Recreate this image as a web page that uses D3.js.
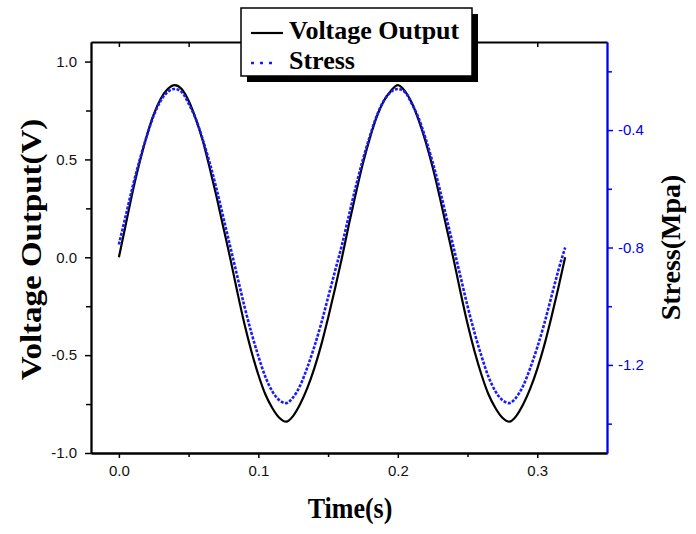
<!DOCTYPE html>
<html>
<head>
<meta charset="utf-8">
<script src="https://cdn.jsdelivr.net/npm/d3@7"></script>
<style>
  body { margin: 0; background: #fff; }
</style>
</head>
<body>
<div id="chart"></div>
<script>
// values (5 ms steps)
var time = [0.000, 0.005, 0.010, 0.015, 0.020, 0.025, 0.030, 0.035, 0.040, 0.045,
            0.050, 0.055, 0.060, 0.065, 0.070, 0.075, 0.080, 0.085, 0.090, 0.095,
            0.100, 0.105, 0.110, 0.115, 0.120, 0.125, 0.130, 0.135, 0.140, 0.145,
            0.150, 0.155, 0.160, 0.165, 0.170, 0.175, 0.180, 0.185, 0.190, 0.195,
            0.200, 0.205, 0.210, 0.215, 0.220, 0.225, 0.230, 0.235, 0.240, 0.245,
            0.250, 0.255, 0.260, 0.265, 0.270, 0.275, 0.280, 0.285, 0.290, 0.295,
            0.300, 0.305, 0.310, 0.315, 0.320];

var voltage = [0.00, 0.17, 0.34, 0.49, 0.62, 0.73, 0.81, 0.86, 0.88, 0.86,
               0.80, 0.71, 0.60, 0.46, 0.31, 0.15, -0.01, -0.18, -0.34, -0.48,
               -0.60, -0.70, -0.77, -0.82, -0.84, -0.81, -0.75, -0.67, -0.57, -0.45,
               -0.31, -0.16, 0.00, 0.17, 0.33, 0.48, 0.61, 0.72, 0.80, 0.85,
               0.88, 0.85, 0.79, 0.70, 0.59, 0.46, 0.31, 0.15, -0.01, -0.18,
               -0.34, -0.48, -0.60, -0.70, -0.77, -0.82, -0.84, -0.81, -0.75, -0.67,
               -0.57, -0.45, -0.31, -0.16, 0.00];

var stress = [-0.79, -0.69, -0.59, -0.50, -0.42, -0.35, -0.30, -0.27, -0.26, -0.27,
              -0.31, -0.36, -0.43, -0.51, -0.60, -0.70, -0.80, -0.90, -1.00, -1.09,
              -1.17, -1.24, -1.29, -1.32, -1.33, -1.31, -1.27, -1.21, -1.14, -1.06,
              -0.97, -0.88, -0.79, -0.69, -0.59, -0.50, -0.42, -0.35, -0.30, -0.27,
              -0.26, -0.27, -0.31, -0.36, -0.43, -0.51, -0.60, -0.70, -0.80, -0.90,
              -1.00, -1.09, -1.17, -1.24, -1.29, -1.32, -1.33, -1.31, -1.27, -1.21,
              -1.14, -1.06, -0.97, -0.88, -0.80];

var timeTicks = [0, 0.1, 0.2, 0.3];
var timeMinor = [0.05, 0.15, 0.25];
var voltTicks = [-1, -0.5, 0, 0.5, 1];
var voltMinor = [-0.75, -0.25, 0.25, 0.75];
var stressTicks = [-1.2, -0.8, -0.4];
var stressMinor = [-1.4, -1.0, -0.6, -0.2];

var seriesNames = ["Voltage Output", "Stress"];

// Define SVG area dimensions
var svgWidth = 696;
var svgHeight = 534;
var chartMargin = { top: 42, right: 89, bottom: 81, left: 91 };
var chartWidth = svgWidth - chartMargin.left - chartMargin.right;
var chartHeight = svgHeight - chartMargin.top - chartMargin.bottom;

var blue = "#0000f0";
var serif = "'Liberation Serif', 'Times New Roman', serif";
var sans = "'Liberation Sans', Arial, sans-serif";

var svg = d3.select("#chart")
    .append("svg")
    .attr("width", svgWidth)
    .attr("height", svgHeight)
    .style("background", "#fff");

var chartGroup = svg.append("g")
    .attr("transform", `translate(${chartMargin.left}, ${chartMargin.top})`);

// scales
var xScale = d3.scaleLinear().domain([-0.02, 0.35]).range([0, chartWidth]);
var yLeft = d3.scaleLinear().domain([-1, 1.1]).range([chartHeight, 0]);
var yRight = d3.scaleLinear().domain([-1.5, -0.1]).range([chartHeight, 0]);

var fmt = d => d.toFixed(1);

function styleAxis(g, color, size) {
    g.selectAll("path").attr("stroke", color).attr("stroke-width", 1.8);
    g.selectAll("line").attr("stroke", color).attr("stroke-width", 1.5);
    g.selectAll("text")
        .attr("fill", color === "#000" ? "#111" : color)
        .style("font-family", sans)
        .style("font-size", size + "px");
}

// bottom axis
var xAxisG = chartGroup.append("g")
    .attr("transform", `translate(0, ${chartHeight})`)
    .call(d3.axisBottom(xScale).tickValues(timeTicks).tickFormat(fmt)
        .tickSize(5).tickSizeOuter(0).tickPadding(7));
styleAxis(xAxisG, "#000", 15);
var xMinorG = chartGroup.append("g")
    .attr("transform", `translate(0, ${chartHeight})`)
    .call(d3.axisBottom(xScale).tickValues(timeMinor).tickFormat("")
        .tickSize(4).tickSizeOuter(0));
styleAxis(xMinorG, "#000", 15);

// top axis, ticks pointing inside
var topG = chartGroup.append("g")
    .call(d3.axisBottom(xScale).tickValues(timeTicks.concat(timeMinor)).tickFormat("")
        .tickSize(5).tickSizeOuter(0));
styleAxis(topG, "#000", 15);

// left axis
var yAxisG = chartGroup.append("g")
    .call(d3.axisLeft(yLeft).tickValues(voltTicks).tickFormat(fmt)
        .tickSize(6).tickSizeOuter(0).tickPadding(8));
styleAxis(yAxisG, "#000", 15);
var yMinorG = chartGroup.append("g")
    .call(d3.axisLeft(yLeft).tickValues(voltMinor).tickFormat("")
        .tickSize(5).tickSizeOuter(0));
styleAxis(yMinorG, "#000", 15);

// right axis (stress)
var rAxisG = chartGroup.append("g")
    .attr("transform", `translate(${chartWidth}, 0)`)
    .call(d3.axisRight(yRight).tickValues(stressTicks).tickFormat(fmt)
        .tickSize(6).tickSizeOuter(0).tickPadding(5));
styleAxis(rAxisG, blue, 15);
var rMinorG = chartGroup.append("g")
    .attr("transform", `translate(${chartWidth}, 0)`)
    .call(d3.axisRight(yRight).tickValues(stressMinor).tickFormat("")
        .tickSize(5).tickSizeOuter(0));
styleAxis(rMinorG, blue, 15);

// lines
var voltLine = d3.line()
    .x((d, i) => xScale(time[i]))
    .y(d => yLeft(d))
    .curve(d3.curveMonotoneX);

var stressLine = d3.line()
    .x((d, i) => xScale(time[i]))
    .y(d => yRight(d))
    .curve(d3.curveMonotoneX);

chartGroup.append("path")
    .datum(voltage)
    .attr("d", voltLine)
    .attr("fill", "none")
    .attr("stroke", "#000")
    .attr("stroke-width", 2.2);

chartGroup.append("path")
    .datum(stress)
    .attr("d", stressLine)
    .attr("fill", "none")
    .attr("stroke", "#1a1aff")
    .attr("stroke-width", 2.6)
    .attr("stroke-dasharray", "3,1.5");

// axis titles
svg.append("text")
    .attr("transform", `translate(41, ${chartMargin.top + chartHeight / 2 + 2}) scale(1, 1.1) rotate(-90)`)
    .attr("text-anchor", "middle")
    .style("font-family", serif)
    .style("font-weight", "bold")
    .style("font-size", "30px")
    .text("Voltage Output(V)");

svg.append("text")
    .attr("transform", `translate(680, ${chartMargin.top + chartHeight / 2}) rotate(-90)`)
    .attr("text-anchor", "middle")
    .style("font-family", serif)
    .style("font-weight", "bold")
    .style("font-size", "28px")
    .text("Stress(Mpa)");

svg.append("text")
    .attr("transform", "translate(350, 518) scale(1, 1.15)")
    .attr("text-anchor", "middle")
    .style("font-family", serif)
    .style("font-weight", "bold")
    .style("font-size", "26px")
    .text("Time(s)");

// legend with drop shadow
var legend = svg.append("g");
legend.append("rect")
    .attr("x", 247).attr("y", 14)
    .attr("width", 231).attr("height", 68)
    .attr("fill", "#000");
legend.append("rect")
    .attr("x", 241).attr("y", 8)
    .attr("width", 231).attr("height", 68)
    .attr("fill", "#fff")
    .attr("stroke", "#000")
    .attr("stroke-width", 1.5);

legend.append("line")
    .attr("x1", 251).attr("x2", 283)
    .attr("y1", 33).attr("y2", 33)
    .attr("stroke", "#000").attr("stroke-width", 2.2);
legend.append("line")
    .attr("x1", 251).attr("x2", 277)
    .attr("y1", 63).attr("y2", 63)
    .attr("stroke", "#1a1aff").attr("stroke-width", 2.6)
    .attr("stroke-dasharray", "3,6");

legend.selectAll("text.lab")
    .data(seriesNames)
    .enter()
    .append("text")
    .attr("class", "lab")
    .attr("x", 289)
    .attr("y", (d, i) => 39 + i * 30)
    .style("font-family", serif)
    .style("font-weight", "bold")
    .style("font-size", "26px")
    .text(d => d);
</script>
</body>
</html>
